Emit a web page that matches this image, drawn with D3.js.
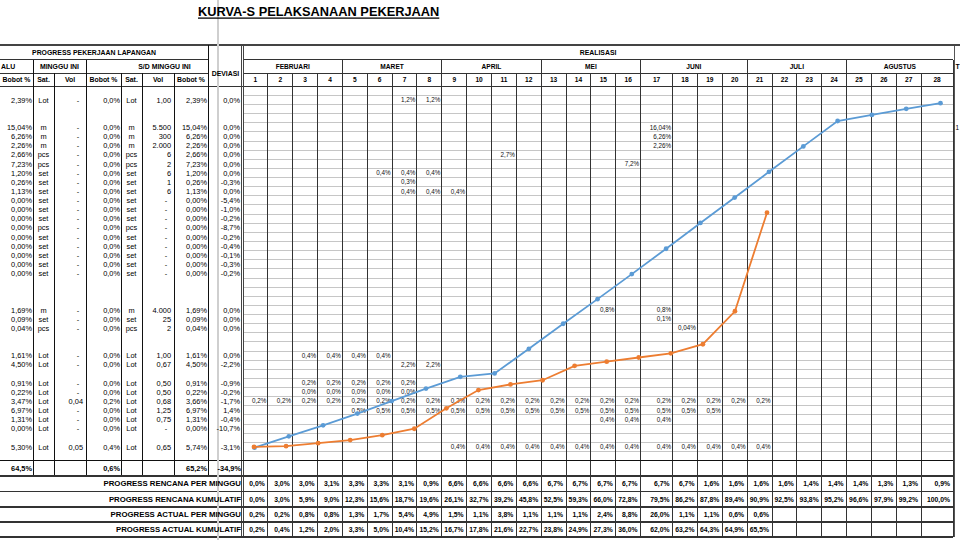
<!DOCTYPE html>
<html><head><meta charset="utf-8">
<script src="https://cdn.jsdelivr.net/npm/d3@7/dist/d3.min.js"></script>
<style>body{margin:0;background:#fff;}svg{display:block;font-family:"Liberation Sans",Arial,sans-serif;}</style>
</head><body><svg id="c" width="960" height="540"></svg>
<script>
// ---------------- DATA ----------------
const title = "KURVA-S PELAKSANAAN PEKERJAAN";
const weeks = d3.range(1, 29);
const months = ["FEBRUARI","MARET","APRIL","MEI","JUNI","JULI","AGUSTUS"];
const monthWeekCount = [4,4,4,4,4,4,4];

const rencanaPerMinggu = [0.0,3.0,3.0,3.1,3.3,3.3,3.1,0.9,6.6,6.6,6.6,6.6,6.7,6.7,6.7,6.7,6.7,6.7,1.6,1.6,1.6,1.6,1.4,1.4,1.4,1.3,1.3,0.9];
const rencanaKumulatif = [0.0,3.0,5.9,9.0,12.3,15.6,18.7,19.6,26.1,32.7,39.2,45.8,52.5,59.3,66.0,72.8,79.5,86.2,87.8,89.4,90.9,92.5,93.8,95.2,96.6,97.9,99.2,100.0];
const actualPerMinggu = [0.2,0.2,0.8,0.8,1.3,1.7,5.4,4.9,1.5,1.1,3.8,1.1,1.1,1.1,2.4,8.8,26.0,1.1,1.1,0.6,0.6];
const actualKumulatif = [0.2,0.4,1.2,2.0,3.3,5.0,10.4,15.2,16.7,17.8,21.6,22.7,23.8,24.9,27.3,36.0,62.0,63.2,64.3,64.9,65.5];

// plotted curves (points actually drawn in the embedded chart)
const curveRencana = rencanaKumulatif.slice(0, 21);
const curveActual = actualKumulatif.slice(0, 17);

// left table (row index in sheet, values)
const itemRows     = [0,3,4,5,6,7,8,9,10,11,12,13,14,15,16,17,18,19,23,24,25,28,29,31,32,33,34,35,36,38];
const bobotRencana = [2.39,15.04,6.26,2.26,2.66,7.23,1.20,0.26,1.13,0,0,0,0,0,0,0,0,0,1.69,0.09,0.04,1.61,4.50,0.91,0.22,3.47,6.97,1.31,0.00,5.30];
const satuan       = ["Lot","m","m","m","pcs","pcs","set","set","set","set","set","set","pcs","set","set","set","set","set","m","set","pcs","Lot","Lot","Lot","Lot","Lot","Lot","Lot","Lot","Lot"];
const volMinggu    = ["-","-","-","-","-","-","-","-","-","-","-","-","-","-","-","-","-","-","-","-","-","-","-","-","-","0,04","-","-","-","0,05"];
const bobotMinggu  = [0,0,0,0,0,0,0,0,0,0,0,0,0,0,0,0,0,0,0,0,0,0,0,0,0,0.2,0,0,0,0.4];
const volSD        = ["1,00","5.500","300","2.000","6","2","6","1","6","-","-","-","-","-","-","-","-","-","4.000","25","2","1,00","0,67","0,50","0,50","0,68","1,25","0,75","-","0,65"];
const bobotSD      = [2.39,15.04,6.26,2.26,2.66,7.23,1.20,0.26,1.13,0,0,0,0,0,0,0,0,0,1.69,0.09,0.04,1.61,4.50,0.91,0.22,3.66,6.97,1.31,0.00,5.74];
const deviasi      = [0.0,0.0,0.0,0.0,0.0,0.0,0.0,-0.3,0.0,-5.4,-1.0,-0.2,-8.7,-0.2,-0.4,-0.1,-0.3,-0.2,0.0,0.0,0.0,0.0,-2.2,-0.9,-0.2,-1.7,1.4,-0.4,-10.7,-3.1];
const totals = {bobot:64.5, minggu:0.6, sd:65.2, deviasi:-34.9};

// weekly cell labels inside the schedule grid: [row, firstWeek, lastWeek, text]
const cellLabels = [
  [0,7,8,"1,2%"],[3,17,17,"16,04%"],[4,17,17,"6,26%"],[5,17,17,"2,26%"],
  [6,11,11,"2,7%"],[7,16,16,"7,2%"],[8,6,8,"0,4%"],[9,7,7,"0,3%"],[10,7,9,"0,4%"],
  [23,15,15,"0,8%"],[23,17,17,"0,8%"],[24,17,17,"0,1%"],[25,18,18,"0,04%"],
  [28,3,6,"0,4%"],[29,7,8,"2,2%"],[31,3,7,"0,2%"],[32,3,7,"0,0%"],
  [33,1,21,"0,2%"],[34,5,19,"0,5%"],[35,15,17,"0,4%"],[38,9,21,"0,4%"]
];
const headerCols = ["Bobot %","Sat.","Vol","Bobot %","Sat.","Vol","Bobot %"];
const bottomLabels = ["PROGRESS RENCANA PER MINGGU","PROGRESS RENCANA KUMULATIF","PROGRESS ACTUAL PER MINGGU","PROGRESS ACTUAL KUMULATIF"];

// ---------------- LAYOUT ----------------
const svg = d3.select("#c");
const X0 = 243, leftEdges = [0,33,54,86,121,142,174,208,243];
const wideWeeks = [17,28];
const weekEdges = [X0];
weeks.forEach(w => weekEdges.push(weekEdges[weekEdges.length-1] + (wideWeeks.includes(w) ? 32 : 24.85)));
const X1 = weekEdges[weekEdges.length-1];
const rowH = 9.13, rowC = i => 100 + rowH*i, rowTop = i => rowC(i) - rowH/2;
const yHead = [45, 59.5, 73, 86.5];
const totalTop = rowTop(40), totalBot = 476;
const bottomEdges = [476, 491.5, 507, 522, 537];
const f1 = v => v.toFixed(1).replace(".", ",") + "%";
const f2 = v => v.toFixed(2).replace(".", ",") + "%";

function line(x1,y1,x2,y2,stroke,w){svg.append("line").attr("x1",x1).attr("y1",y1).attr("x2",x2).attr("y2",y2).attr("stroke",stroke).attr("stroke-width",w||1).attr("shape-rendering","crispEdges");}
function text(x,y,t,size,anchor,bold){return svg.append("text").attr("x",x).attr("y",y).attr("dy","0.35em").attr("font-size",size).attr("text-anchor",anchor||"start").attr("font-weight",bold?"bold":"normal").attr("fill","#000").text(t);}

// ---- schedule grid: horizontal row lines
d3.range(-1, 41).forEach(i => line(X0, rowTop(i), X1, rowTop(i), "#b8b8b8", 0.8));
// vertical week lines (body + total + bottom)
weekEdges.forEach(x => line(x, yHead[2], x, bottomEdges[4], "#333", 1));
line(X1+1.5, yHead[0], X1+1.5, bottomEdges[4], "#555", 1);
// month separators in header
let acc = 0;
const monthEdges = [X0];
monthWeekCount.forEach(n => { acc += n; monthEdges.push(weekEdges[acc]); });
monthEdges.forEach(x => line(x, yHead[1], x, yHead[2], "#333", 1));
// header horizontal lines
line(0, yHead[0], 960, yHead[0], "#444", 2);
line(0, yHead[1], leftEdges[7], yHead[1], "#333", 1);
line(X0, yHead[1], X1, yHead[1], "#333", 1);
line(0, yHead[2], leftEdges[7], yHead[2], "#333", 1);
line(X0, yHead[2], X1, yHead[2], "#333", 1);
line(0, yHead[3], X1, yHead[3], "#333", 1);

// ---- left table lines
[1,2,3,4,5,6].forEach(k => line(leftEdges[k], yHead[2], leftEdges[k], totalBot, "#111", 1));
[1,3].forEach(k => line(leftEdges[k], yHead[1], leftEdges[k], yHead[2], "#111", 1));
line(leftEdges[7], yHead[0], leftEdges[7], totalBot, "#111", 1);
line(X0-1.5, yHead[0], X0-1.5, bottomEdges[4], "#444", 1);
line(X0+0.5, yHead[0], X0+0.5, bottomEdges[4], "#444", 1);
// total row & bottom rows
line(0, totalTop, X1, totalTop, "#111", 1);
bottomEdges.forEach((y,i) => line(0, y, X1, y, "#333", i===0||i===4 ? 1.6 : 1.2));
// freeze-pane line
line(218, 0, 218, 540, "#cfcfcf", 2);

// ---- title
text(198, 12, title, "12.8px", "start", true).attr("text-decoration","underline");

// ---- header text
text(94, 52.3, "PROGRESS PEKERJAAN LAPANGAN", "6.9px", "middle", true);
text(1, 66.3, "ALU", "6.9px", "start", true);
text((leftEdges[1]+leftEdges[3])/2, 66.3, "MINGGU INI", "6.9px", "middle", true);
text((leftEdges[4]+leftEdges[7])/2, 66.3, "S/D MINGGU INI", "6.9px", "middle", true);
headerCols.forEach((h,k) => text((leftEdges[k]+leftEdges[k+1])/2, 80, h, "6.9px", "middle", true));
text((leftEdges[7]+leftEdges[8])/2, 74, "DEVIASI", "6.9px", "middle", true);
text((X0+X1)/2, 52.3, "REALISASI", "6.9px", "middle", true);
months.forEach((m,k) => text((monthEdges[k]+monthEdges[k+1])/2, 66.3, m, "6.6px", "middle", true));
weeks.forEach((w,k) => text((weekEdges[k]+weekEdges[k+1])/2, 80, String(w), "6.6px", "middle", true));
text(955.5, 66.3, "T", "6.9px", "start", true);
text(955.5, rowC(3), "1", "6.3px", "start");

// ---- left table body
const FS = "7.4px";
itemRows.forEach((r,i) => {
  const y = rowC(r);
  text(leftEdges[1]-1, y, f2(bobotRencana[i]), FS, "end");
  text((leftEdges[1]+leftEdges[2])/2, y, satuan[i], FS, "middle");
  if (volMinggu[i] === "-") text(leftEdges[3]-8, y, "-", FS, "middle");
  else text(leftEdges[3]-3, y, volMinggu[i], FS, "end");
  text(leftEdges[4]-1, y, f1(bobotMinggu[i]), FS, "end");
  text((leftEdges[4]+leftEdges[5])/2, y, satuan[i], FS, "middle");
  if (volSD[i] === "-") text(leftEdges[6]-8, y, "-", FS, "middle");
  else text(leftEdges[6]-3, y, volSD[i], FS, "end");
  text(leftEdges[7]-1, y, f2(bobotSD[i]), FS, "end");
  text(X0-3, y, f1(deviasi[i]), FS, "end");
});
const yT = (totalTop + totalBot)/2;
text(leftEdges[1]-1, yT, f1(totals.bobot), "7.4px", "end", true);
text(leftEdges[4]-1, yT, f1(totals.minggu), "7.4px", "end", true);
text(leftEdges[7]-1, yT, f1(totals.sd), "7.4px", "end", true);
text(X0-2, yT, f1(totals.deviasi), "7.4px", "end", true);

// ---- weekly cell labels
cellLabels.forEach(([r,a,b,t]) => {
  d3.range(a, b+1).forEach(w => text(weekEdges[w]-1.5, rowC(r), t, "6.3px", "end").attr("fill","#111"));
});

// ---- bottom summary rows
const bottomData = [rencanaPerMinggu, rencanaKumulatif, actualPerMinggu, actualKumulatif];
bottomLabels.forEach((lab,i) => {
  const y = (bottomEdges[i] + bottomEdges[i+1]) / 2;
  text(X0-2, y, lab, "7.8px", "end", true);
  bottomData[i].forEach((v,k) => text(weekEdges[k+1]-3, y, f1(v), "6.8px", "end", true));
});

// ---- S-curves (embedded chart)
const y = d3.scaleLinear().domain([0, 100]).range([447.7, 68.7]);
const xR = d3.scalePoint().domain(d3.range(1, curveRencana.length+1)).range([254.5, 940.5]);
const xA = d3.scaleLinear().domain([1, curveActual.length]).range([254, 767]);
const blue = "#5B9BD5", orange = "#ED7D31";
const gen = (xs) => d3.line().x((d,i) => xs(i+1)).y(d => y(d));
svg.append("path").datum(curveRencana).attr("d", gen(xR)).attr("fill","none").attr("stroke",blue).attr("stroke-width",1.8);
svg.append("g").selectAll("circle").data(curveRencana).join("circle")
  .attr("cx",(d,i)=>xR(i+1)).attr("cy",d=>y(d)).attr("r",2.4).attr("fill",blue);
svg.append("path").datum(curveActual).attr("d", gen(xA)).attr("fill","none").attr("stroke",orange).attr("stroke-width",1.8);
svg.append("g").selectAll("circle").data(curveActual).join("circle")
  .attr("cx",(d,i)=>xA(i+1)).attr("cy",d=>y(d)).attr("r",2.4).attr("fill",orange);
</script></body></html>
